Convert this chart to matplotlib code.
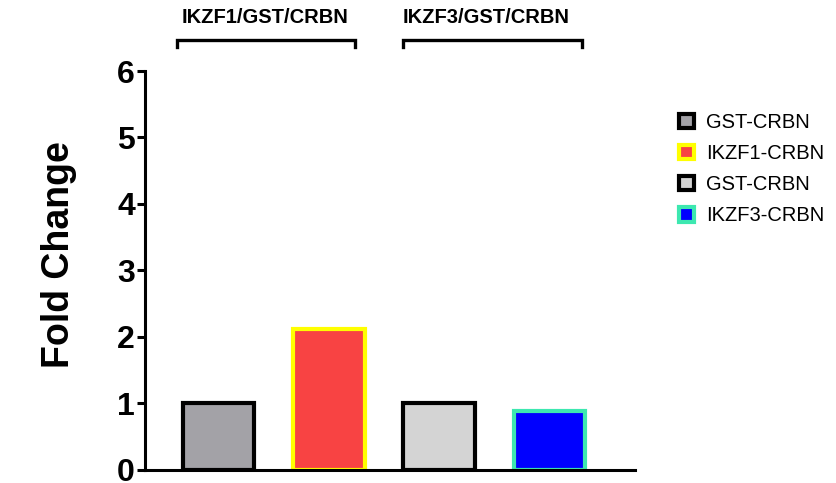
import numpy as np
import matplotlib
matplotlib.use("Agg")
from matplotlib import pyplot as plt
from matplotlib.patches import Patch

plt.rcParams['font.family'] = ['Liberation Sans', 'DejaVu Sans']

# data
labels = ['GST-CRBN', 'IKZF1-CRBN', 'GST-CRBN', 'IKZF3-CRBN']
values = [1.0, 2.12, 1.0, 0.88]
fills = ['#A3A2A7', '#F84343', '#D4D4D4', '#0000FF']
edges = ['#000000', '#FFFF00', '#000000', '#3DE8B0']
groups = ['IKZF1/GST/CRBN', 'IKZF3/GST/CRBN']
y_ticks = [0, 1, 2, 3, 4, 5, 6]

fig = plt.figure(figsize=(8.36, 4.83), dpi=100)
ax = fig.add_axes([0.173, 0.027, 0.587, 0.826])

x = np.arange(len(values))
ax.bar(x, values, width=0.65, color=fills, edgecolor=edges, linewidth=3)

ax.set_xlim(-0.67, 3.78)
ax.set_ylim(0, 6)
ax.set_yticks(y_ticks)
ax.set_yticklabels([str(t) for t in y_ticks], fontsize=23, fontweight='bold')
ax.set_xticks([])
ax.spines['top'].set_visible(False)
ax.spines['right'].set_visible(False)
ax.spines['left'].set_linewidth(2.2)
ax.spines['bottom'].set_linewidth(2.2)
ax.tick_params(axis='y', width=2.2, length=6, pad=1)
ax.set_ylabel('Fold Change', fontsize=27, fontweight='bold')
ax.yaxis.set_label_coords(-0.137, 0.54)

# group brackets above the plot
brackets = [(-0.38, 1.24), (1.67, 3.3)]
label_x = [0.42, 2.43]
for (x0, x1), lx, name in zip(brackets, label_x, groups):
    yb = 6.46
    ax.plot([x0, x0, x1, x1], [yb - 0.1, yb, yb, yb - 0.1], color='black',
            lw=2.4, clip_on=False, solid_joinstyle='miter')
    ax.text(lx, 6.8, name, ha='center', va='center',
            fontsize=14.5, fontweight='bold', clip_on=False)

handles = [Patch(facecolor=f, edgecolor=e, linewidth=3, label=l)
           for f, e, l in zip(fills, edges, labels)]
fig.legend(handles=handles, loc='upper left', bbox_to_anchor=(0.8, 0.787),
           frameon=False, fontsize=14.5, handlelength=0.75, handleheight=0.75,
           handletextpad=0.6, labelspacing=0.6, borderpad=0)

fig.savefig('out.png', dpi=100)
